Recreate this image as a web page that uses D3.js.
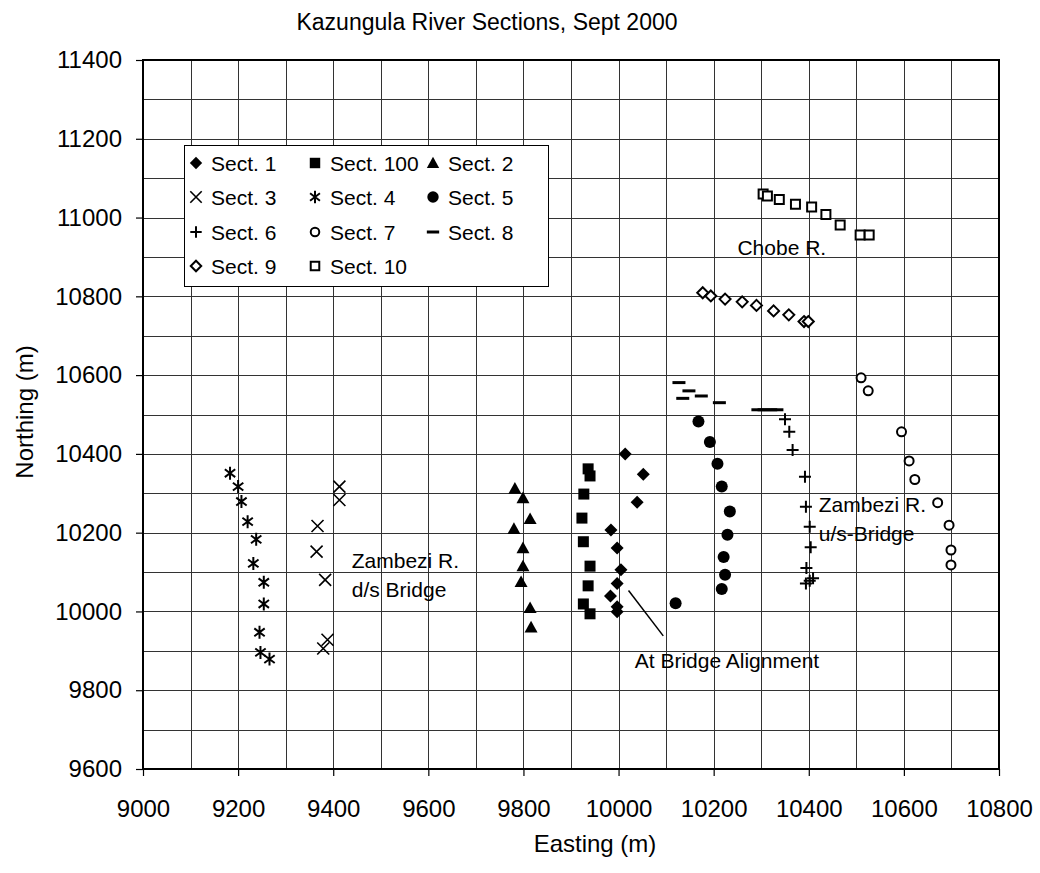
<!DOCTYPE html>
<html>
<head>
<meta charset="utf-8">
<script src="https://cdn.jsdelivr.net/npm/d3@7"></script>
<style>
  body { margin: 0; background: #fff; }
  text { font-family: "Liberation Sans", Arial, sans-serif; fill: #000; }
</style>
</head>
<body>
<div id="chart_div"></div>
<script>
// section points as [Easting, Northing]
var sect1 = [[10014,10400],[10052,10348],[10039,10277],[9984,10207],[9997,10161],
  [10005,10106],[9997,10071],[9983,10039],[9997,10012],[9997,9999]];
var sect100 = [[9936,10362],[9940,10344],[9927,10298],[9923,10237],[9926,10177],
  [9940,10115],[9936,10065],[9926,10019],[9940,9994]];
var sect2 = [[9782,10312],[9799,10288],[9814,10235],[9780,10210],[9799,10161],
  [9799,10115],[9795,10075],[9814,10009],[9816,9960]];
var sect3 = [[9413,10317],[9413,10283],[9367,10217],[9365,10152],[9383,10080],
  [9388,9928],[9379,9906]];
var sect4 = [[9183,10351],[9200,10317],[9207,10279],[9220,10228],[9238,10183],
  [9232,10122],[9254,10074],[9254,10019],[9245,9947],[9247,9896],[9266,9879]];
var sect5 = [[10168,10482],[10192,10430],[10208,10375],[10217,10317],[10234,10254],
  [10229,10195],[10221,10138],[10224,10093],[10217,10057],[10120,10021]];
var sect6 = [[10350,10488],[10359,10456],[10366,10410],[10392,10342],[10394,10266],
  [10402,10215],[10404,10163],[10395,10110],[10409,10084],[10402,10078],[10394,10071]];
var sect7 = [[10510,10593],[10525,10560],[10595,10456],[10611,10382],[10623,10335],
  [10671,10276],[10695,10219],[10699,10156],[10699,10118]];
var sect8 = [[10127,10581],[10148,10560],[10135,10541],[10174,10547],[10212,10530],
  [10293,10512],[10306,10512],[10320,10512],[10333,10512]];
var sect9 = [[10177,10809],[10194,10801],[10224,10793],[10260,10786],[10290,10777],
  [10326,10763],[10358,10753],[10390,10736],[10399,10736]];
var sect10 = [[10304,11060],[10313,11055],[10338,11046],[10372,11034],[10406,11027],
  [10436,11008],[10466,10981],[10508,10956],[10527,10956]];

var seriesNames = ["Sect. 1","Sect. 100","Sect. 2","Sect. 3","Sect. 4","Sect. 5",
  "Sect. 6","Sect. 7","Sect. 8","Sect. 9","Sect. 10"];
var seriesData = [sect1, sect100, sect2, sect3, sect4, sect5, sect6, sect7, sect8, sect9, sect10];
var seriesShape = ["diamond","square","triangle","x","star","circle","plus","ocircle","dash","odiamond","osquare"];

var xTicks = d3.range(9000, 10801, 200);
var yTicks = d3.range(9600, 11401, 200);
var gridStep = 100;

var notes = [
  {lines: ["Zambezi R.", "d/s Bridge"], e: 9439, n: 10110},
  {lines: ["Zambezi R.", "u/s-Bridge"], e: 10421, n: 10253},
  {lines: ["Chobe R."], e: 10250, n: 10905},
  {lines: ["At Bridge Alignment"], e: 10034, n: 9857}
];
var pointer = [[10021,10053],[10094,9938]];

var W = 1040, H = 873;
var x = d3.scaleLinear().domain([9000, 10800]).range([143, 999]);
var y = d3.scaleLinear().domain([9600, 11400]).range([769, 60]);

var svg = d3.select("#chart_div")
    .append("svg")
    .attr("width", W)
    .attr("height", H);

// grid
var grid = svg.append("g").attr("class", "grid")
    .attr("stroke", "#333")
    .attr("stroke-width", 1);
grid.selectAll("line.v")
    .data(d3.range(9000 + gridStep, 10800, gridStep))
    .enter().append("line")
    .attr("x1", function(d) { return Math.round(x(d)) + 0.5; })
    .attr("x2", function(d) { return Math.round(x(d)) + 0.5; })
    .attr("y1", y(9600)).attr("y2", y(11400));
grid.selectAll("line.h")
    .data(d3.range(9600 + gridStep, 11400, gridStep))
    .enter().append("line")
    .attr("y1", function(d) { return Math.round(y(d)) + 0.5; })
    .attr("y2", function(d) { return Math.round(y(d)) + 0.5; })
    .attr("x1", x(9000)).attr("x2", x(10800));

// axes
var fmt = d3.format("d");
svg.append("g")
    .attr("class", "axis")
    .attr("transform", "translate(0," + y(9600) + ")")
    .call(d3.axisBottom(x).tickValues(xTicks).tickFormat(fmt)
      .tickSize(7).tickPadding(24).tickSizeOuter(0));
svg.append("g")
    .attr("class", "axis")
    .attr("transform", "translate(" + x(9000) + ",0)")
    .call(d3.axisLeft(y).tickValues(yTicks).tickFormat(fmt)
      .tickSize(7).tickPadding(14).tickSizeOuter(0));
svg.selectAll(".axis")
    .attr("font-family", '"Liberation Sans", Arial, sans-serif')
    .attr("font-size", 24);
svg.selectAll(".tick line").attr("stroke", "#000").attr("stroke-width", 1.2);
svg.selectAll(".domain").remove();

svg.append("rect")
    .attr("x", x(9000)).attr("y", y(11400))
    .attr("width", x(10800) - x(9000))
    .attr("height", y(9600) - y(11400))
    .attr("fill", "none")
    .attr("stroke", "#000")
    .attr("stroke-width", 2);

// titles
svg.append("text")
    .attr("x", 487).attr("y", 30)
    .attr("text-anchor", "middle")
    .style("font-size", "23px")
    .text("Kazungula River Sections, Sept 2000");
svg.append("text")
    .attr("x", 595).attr("y", 852)
    .attr("text-anchor", "middle")
    .style("font-size", "24px")
    .text("Easting (m)");
svg.append("text")
    .attr("transform", "translate(33,412) rotate(-90)")
    .attr("text-anchor", "middle")
    .style("font-size", "24px")
    .text("Northing (m)");

// marker shapes
function markerPath(shape, s) {
  var k;
  switch (shape) {
    case "diamond": case "odiamond":
      return "M0," + (-s) + "L" + s + ",0L0," + s + "L" + (-s) + ",0Z";
    case "square": case "osquare":
      return "M" + (-s) + "," + (-s) + "H" + s + "V" + s + "H" + (-s) + "Z";
    case "triangle":
      return "M0," + (-s) + "L" + s + "," + (s * 0.8) + "L" + (-s) + "," + (s * 0.8) + "Z";
    case "circle": case "ocircle":
      return d3.symbol(d3.symbolCircle, Math.PI * s * s)();
    case "x":
      return "M" + (-s) + "," + (-s) + "L" + s + "," + s + "M" + s + "," + (-s) + "L" + (-s) + "," + s;
    case "plus":
      return "M" + (-s) + ",0H" + s + "M0," + (-s) + "V" + s;
    case "star":
      k = s * 0.8;
      return "M" + (-k) + "," + (-k * 0.75) + "L" + k + "," + (k * 0.75) +
        "M" + k + "," + (-k * 0.75) + "L" + (-k) + "," + (k * 0.75) + "M0," + (-s) + "V" + s;
    case "dash":
      return "M" + (-s) + ",0H" + s;
  }
}
var shapeSize = {diamond: 6.5, square: 5.5, triangle: 6.5, x: 6, star: 6.5, circle: 6,
  plus: 6, ocircle: 4.5, dash: 6.5, odiamond: 5.5, osquare: 4.5};
function styleMarker(sel, shape) {
  if (shape === "diamond" || shape === "square" || shape === "triangle" || shape === "circle") {
    sel.attr("fill", "#000").attr("stroke", "none");
  } else if (shape === "ocircle" || shape === "odiamond" || shape === "osquare") {
    sel.attr("fill", "#fff").attr("stroke", "#000").attr("stroke-width", 2);
  } else {
    sel.attr("fill", "none").attr("stroke", "#000")
       .attr("stroke-width", shape === "dash" ? 3 : (shape === "x" ? 1.6 : 2));
  }
}

// points
seriesData.forEach(function(pts, i) {
  var shape = seriesShape[i];
  var g = svg.append("g").attr("class", "series");
  var m = g.selectAll("path")
      .data(pts)
      .enter().append("path")
      .attr("transform", function(d) { return "translate(" + x(d[0]) + "," + y(d[1]) + ")"; })
      .attr("d", markerPath(shape, shapeSize[shape]));
  styleMarker(m, shape);
});

// notes
notes.forEach(function(nt) {
  var t = svg.append("text")
      .attr("x", x(nt.e)).attr("y", y(nt.n))
      .style("font-size", "21px");
  nt.lines.forEach(function(l, j) {
    t.append("tspan")
      .attr("x", x(nt.e))
      .attr("dy", j === 0 ? 0 : 29)
      .text(l);
  });
});
svg.append("line")
    .attr("x1", x(pointer[0][0])).attr("y1", y(pointer[0][1]))
    .attr("x2", x(pointer[1][0])).attr("y2", y(pointer[1][1]))
    .attr("stroke", "#000").attr("stroke-width", 1.5);

// legend
var legend = svg.append("g").attr("class", "legend");
legend.append("rect")
    .attr("x", 184.5).attr("y", 145.5)
    .attr("width", 364).attr("height", 141)
    .attr("fill", "#fff")
    .attr("stroke", "#000")
    .attr("stroke-width", 1);
var colX = [196, 315, 433];
var rowY = [163, 197, 232, 266];
seriesNames.forEach(function(name, i) {
  var cx = colX[i % 3], cy = rowY[Math.floor(i / 3)];
  var shape = seriesShape[i];
  var m = legend.append("path")
      .attr("transform", "translate(" + cx + "," + cy + ")")
      .attr("d", markerPath(shape, shapeSize[shape] * 0.95));
  styleMarker(m, shape);
  legend.append("text")
      .attr("x", cx + 15).attr("y", cy + 7.5)
      .style("font-size", "21px")
      .text(name);
});
</script>
</body>
</html>
